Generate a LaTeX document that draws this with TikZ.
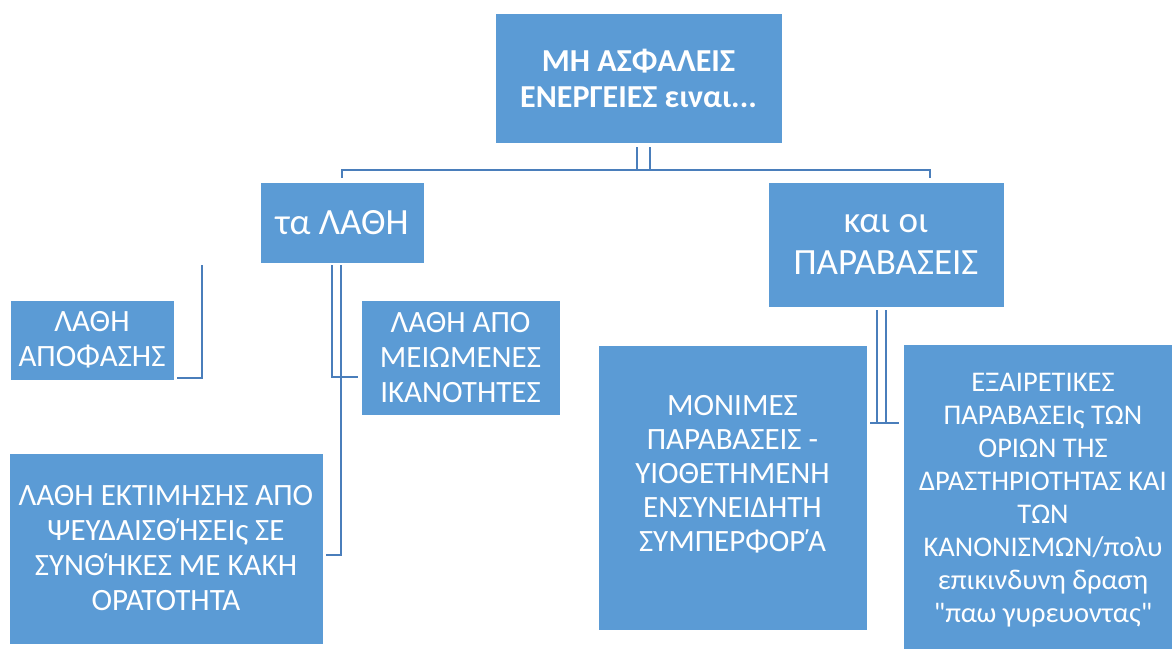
\documentclass[tikz,border=0pt]{standalone}
\usepackage{fontspec}
\newfontfamily\carlito{Carlito}
\setmainfont{Carlito}
\usetikzlibrary{calc}
\definecolor{boxblue}{RGB}{91,155,213}
\definecolor{linkblue}{RGB}{74,126,187}
\newcommand{\tonosH}{\kern-0.15em\char"0384\kern-0.09emΗ}
\newcommand{\tonosA}{\kern-0.13em\char"0384\kern-0.10emΑ}
\tikzset{
  box/.style={rectangle, fill=boxblue, draw=white, line width=0.8pt, text=white, align=center, inner sep=0pt},
  small/.style={font=\carlito\fontsize{31}{35}\selectfont},
  mid/.style={font=\carlito\fontsize{37}{42}\selectfont},
  link/.style={draw=linkblue, line width=2.6pt}
}
\begin{document}
\begin{tikzpicture}[x=1pt,y=-1pt]
\useasboundingbox (0,0) rectangle (1172,648);
\clip (0,0) rectangle (1172,648);
\fill[white] (0,0) rectangle (1172,648);

\node[box, minimum width=287, minimum height=130, font=\carlito\fontsize{32}{36}\selectfont\bfseries] (top) at (638.5,78) {ΜΗ ΑΣΦΑΛΕΙΣ\\ΕΝΕΡΓΕΙΕΣ ειναι...};
\node[box, mid, minimum width=164, minimum height=81] (lathi) at (342,222.5) {τα ΛΑΘΗ};
\node[box, mid, minimum width=236, minimum height=125] (parav) at (886,244.5) {και οι\\ΠΑΡΑΒΑΣΕΙΣ};
\node[box, small, minimum width=164, minimum height=80] (apof) at (92,340) {ΛΑΘΗ\\ΑΠΟΦΑΣΗΣ};
\node[box, small, minimum width=199, minimum height=115] (meiom) at (460.5,357.5) {ΛΑΘΗ ΑΠΟ\\ΜΕΙΩΜΕΝΕΣ\\ΙΚΑΝΟΤΗΤΕΣ};
\node[box, small, minimum width=314, minimum height=191] (ektim) at (166,548.5) {ΛΑΘΗ ΕΚΤΙΜΗΣΗΣ ΑΠΟ\\ΨΕΥΔΑΙΣΘ\tonosH ΣΕΙς ΣΕ\\ΣΥΝΘ\tonosH ΚΕΣ ΜΕ ΚΑΚΗ\\ΟΡΑΤΟΤΗΤΑ};
\node[box, minimum width=269, minimum height=285,
  label={[font=\carlito\fontsize{31}{34}\selectfont, text=white, align=center, yshift=13]center:ΜΟΝΙΜΕΣ\\ΠΑΡΑΒΑΣΕΙΣ -\\ΥΙΟΘΕΤΗΜΕΝΗ\\ΕΝΣΥΝΕΙΔΗΤΗ\\ΣΥΜΠΕΡΦΟΡ\tonosA}] (monim) at (732.5,487.5) {};
\node[box, font=\carlito\fontsize{28.5}{33}\selectfont, minimum width=280, minimum height=312] (exair) at (1043,500) {ΕΞΑΙΡΕΤΙΚΕΣ\\ΠΑΡΑΒΑΣΕΙς ΤΩΝ\\ΟΡΙΩΝ ΤΗΣ\\ΔΡΑΣΤΗΡΙΟΤΗΤΑΣ ΚΑΙ\\ΤΩΝ\\ΚΑΝΟΝΙΣΜΩΝ/πολυ\\επικινδυνη δραση\\"παω γυρευοντας"};

% top connectors
\coordinate (hL) at (637,170);
\coordinate (hR) at (650,170);
\draw[link] ($(top.south)+(-1.5,4)$) -- (hL) -- (hL -| lathi.north) -- ($(lathi.north)+(0,-4)$);
\draw[link] ($(top.south)+(11.5,4)$) -- (hR) (hL) -- (hR) -- (930,170) -- ($(parav.north -| 930,0)+(0,-4)$);

% ΛΑΘΗ connectors
\coordinate (bendA) at (332,377);
\coordinate (bendB) at (341,555);
\draw[link] ($(lathi.south)+(-10,2)$) -- (bendA) -- ($(meiom.west |- bendA)+(-3,0)$);
\draw[link] ($(lathi.south)+(-1,2)$) -- (bendB) -- ($(ektim.east |- bendB)+(3,0)$);

% free connector to ΛΑΘΗ ΑΠΟΦΑΣΗΣ
\coordinate (freeA) at (202,265);
\coordinate (bendC) at (202,378);
\draw[link] (freeA) -- (bendC) -- ($(apof.east |- bendC)+(3,0)$);

% ΠΑΡΑΒΑΣΕΙΣ connectors
\coordinate (bendD) at (877,423);
\coordinate (bendE) at (886,423);
\draw[link] ($(parav.south)+(-9,3)$) -- (bendD) -- ($(monim.east |- bendD)+(3,0)$);
\draw[link] ($(parav.south)+(0,3)$) -- (bendE) -- ($(exair.west |- bendE)+(-4,0)$);
\draw[link] (bendD) -- (bendE);
\end{tikzpicture}
\end{document}
